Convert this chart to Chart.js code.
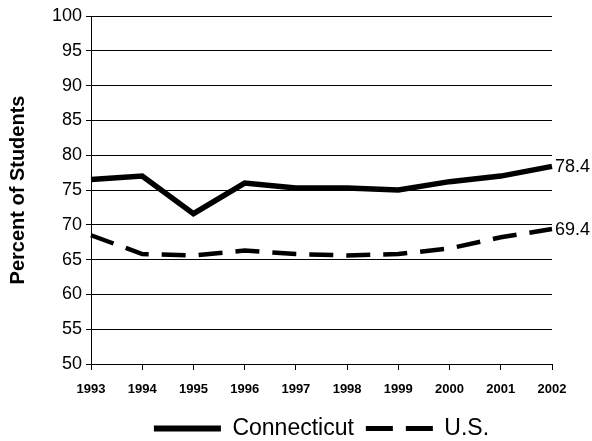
<!DOCTYPE html>
<html>
<head>
<meta charset="utf-8">
<script src="https://cdn.jsdelivr.net/npm/chart.js@4"></script>
<style>
  html, body { margin: 0; padding: 0; background: #fff; }
  #wrap { width: 592px; height: 441px; }
</style>
</head>
<body>
<div id="wrap"><canvas id="grafico"></canvas></div>
<script>
// dados
const anos = ['1993','1994','1995','1996','1997','1998','1999','2000','2001','2002'];
const connecticut = [76.5, 77.0, 71.6, 76.0, 75.3, 75.3, 75.0, 76.2, 77.0, 78.4];
const usa = [68.5, 65.8, 65.6, 66.3, 65.8, 65.6, 65.8, 66.6, 68.2, 69.4];
const yTicks = [50, 55, 60, 65, 70, 75, 80, 85, 90, 95, 100];

const fonte = "'Liberation Sans', Arial, sans-serif";
Chart.defaults.font.family = fonte;
Chart.defaults.color = '#000';

// rotulo do ultimo valor, a direita da linha
const rotuloFinal = {
  id: 'rotuloFinal',
  afterDatasetsDraw(chart) {
    const ctx = chart.ctx;
    ctx.save();
    ctx.font = '18px ' + fonte;
    ctx.fillStyle = '#000';
    ctx.textBaseline = 'middle';
    chart.data.datasets.forEach((ds, i) => {
      const meta = chart.getDatasetMeta(i);
      const pt = meta.data[meta.data.length - 1];
      ctx.fillText(ds.data[ds.data.length - 1].toFixed(1), pt.x + 3, pt.y + 1);
    });
    ctx.restore();
  }
};

new Chart(document.getElementById('grafico'), {
  type: 'line',
  data: {
    labels: anos,
    datasets: [
      {
        label: 'Connecticut',
        data: connecticut,
        borderColor: '#000',
        backgroundColor: '#000',
        borderWidth: 5.5,
        pointRadius: 0,
        tension: 0
      },
      {
        label: 'U.S.',
        data: usa,
        borderColor: '#000',
        backgroundColor: '#000',
        borderWidth: 4.5,
        borderDash: [24, 13],
        pointRadius: 0,
        tension: 0
      }
    ]
  },
  options: {
    responsive: true,
    maintainAspectRatio: false,
    animation: false,
    layout: { padding: { top: 16, right: 40, left: 0, bottom: -9 } },
    plugins: {
      legend: {
        position: 'bottom',
        fullSize: false,
        labels: {
          usePointStyle: true,
          pointStyle: 'line',
          pointStyleWidth: 67,
          padding: 12,
          font: { size: 23 },
          color: '#000',
          // legenda com tracejado e espessura da serie
          generateLabels: chart => {
            const itens = Chart.defaults.plugins.legend.labels.generateLabels(chart);
            return itens.map(it => {
              const ds = chart.data.datasets[it.datasetIndex];
              it.lineDash = ds.borderDash ? [27, 13] : [];
              it.lineWidth = ds.borderWidth + 0.5;
              it.strokeStyle = '#000';
              return it;
            });
          }
        }
      },
      tooltip: { enabled: false }
    },
    scales: {
      x: {
        offset: false,
        afterFit: s => { s.height = 41; },
        grid: { drawOnChartArea: false, drawTicks: true, tickLength: 6, color: '#000' },
        border: { color: '#000', width: 1 },
        ticks: { font: { size: 13, weight: 'bold' }, color: '#000', maxRotation: 0, padding: 12 }
      },
      y: {
        min: 50,
        max: 100,
        afterBuildTicks: axis => { axis.ticks = yTicks.map(v => ({ value: v })); },
        afterFit: s => { s.width = 91; },
        grid: { color: '#000', lineWidth: 1, tickLength: 5 },
        border: { color: '#000', width: 1 },
        ticks: { font: { size: 18 }, color: '#000', padding: 4 },
        title: {
          display: true,
          text: 'Percent of Students',
          font: { size: 20, weight: 'bold' },
          color: '#000',
          padding: 6
        }
      }
    }
  },
  plugins: [rotuloFinal]
});
</script>
</body>
</html>
